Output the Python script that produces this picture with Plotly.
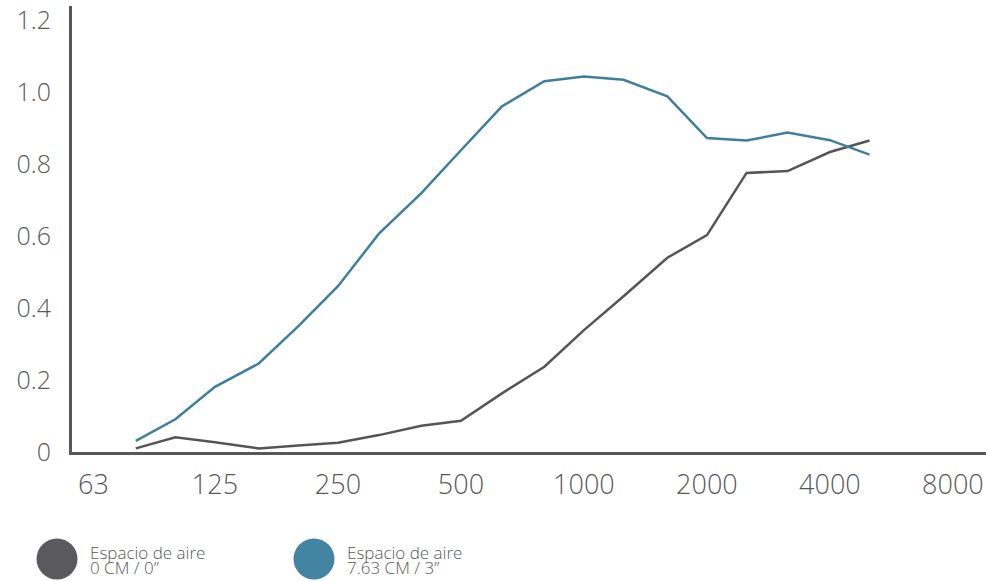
import plotly.graph_objects as go

freqs = [80, 100, 125, 160, 200, 250, 315, 400, 500, 630, 800, 1000,
         1250, 1600, 2000, 2500, 3150, 4000, 5000]
air_0cm = [0.010, 0.041, 0.027, 0.010, 0.018, 0.026, 0.047, 0.073, 0.087,
           0.163, 0.237, 0.339, 0.433, 0.540, 0.603, 0.776, 0.781, 0.834, 0.866]
air_763cm = [0.031, 0.091, 0.181, 0.246, 0.350, 0.461, 0.607, 0.720, 0.839,
             0.961, 1.031, 1.044, 1.035, 0.989, 0.873, 0.866, 0.888, 0.867, 0.827]

x_ticks = [63, 125, 250, 500, 1000, 2000, 4000, 8000]
x_ticktext = ["63", "125", "250", "500", "1000", "2000", "4000", "8000"]
y_ticks = [0, 0.2, 0.4, 0.6, 0.8, 1.0, 1.2]
y_ticktext = ["0", "0.2", "0.4", "0.6", "0.8", "1.0", "1.2"]

legend_labels = [("Espacio de aire", "0 CM / 0”"), ("Espacio de aire", "7.63 CM / 3”")]

dark = "#555557"
blue = "#3f7f9e"
text_col = "#58595b"
axis_col = "#58585a"
FONT = "Open Sans"

fig = go.Figure()
fig.add_trace(go.Scatter(x=freqs, y=air_0cm, mode="lines",
                         line=dict(color=dark, width=2.5), showlegend=False))
fig.add_trace(go.Scatter(x=freqs, y=air_763cm, mode="lines",
                         line=dict(color=blue, width=2.5), showlegend=False))

fig.update_layout(
    width=986, height=581,
    margin=dict(l=72, r=0, t=6, b=129),
    paper_bgcolor="white", plot_bgcolor="white",
    font=dict(family=FONT, color=text_col),
    showlegend=False,
    xaxis=dict(type="log", range=[1.747, 3.984], tickvals=x_ticks, ticktext=x_ticktext,
               showgrid=False, zeroline=False, showline=True, linecolor=axis_col,
               linewidth=3, ticks="", tickfont=dict(size=27, color=text_col, family=FONT, weight=300),
               ticklabelstandoff=7, automargin=False),
    yaxis=dict(range=[0, 1.24], tickvals=y_ticks, ticktext=y_ticktext,
               showgrid=False, zeroline=False, showline=True, linecolor=axis_col,
               linewidth=3, ticks="", tickfont=dict(size=25, color=text_col, family=FONT, weight=300),
               ticklabelstandoff=13, automargin=False),
)

# legend drawn as circles + text
legend_colors = ["#5a5a5e", "#4484a3"]
circle_px = [57, 314]
text_px = [89, 346]
plot_left, plot_w = 72, 914
plot_bottom, plot_h = 452, 446
for i, (l1, l2) in enumerate(legend_labels):
    cx = (circle_px[i] - plot_left) / plot_w
    cy = (plot_bottom - 559) / plot_h
    fig.add_shape(type="circle", xref="paper", yref="paper",
                  xsizemode="pixel", ysizemode="pixel",
                  xanchor=cx, yanchor=cy, x0=-20.5, x1=20.5, y0=-20.5, y1=20.5,
                  fillcolor=legend_colors[i], line=dict(width=0))
    tx = (text_px[i] - plot_left) / plot_w
    fig.add_annotation(x=tx, y=(plot_bottom - 552) / plot_h, xref="paper", yref="paper",
                       text=l1, showarrow=False, xanchor="left", yanchor="middle",
                       borderpad=0, font=dict(size=17, color=text_col, family=FONT, weight=300))
    fig.add_annotation(x=tx, y=(plot_bottom - 567) / plot_h, xref="paper", yref="paper",
                       text=l2, showarrow=False, xanchor="left", yanchor="middle",
                       borderpad=0, font=dict(size=17, color=text_col, family=FONT, weight=300))

fig.write_html("out.html", config={"displayModeBar": False},
               post_script="document.body.style.margin='0';document.body.style.overflow='hidden';")
